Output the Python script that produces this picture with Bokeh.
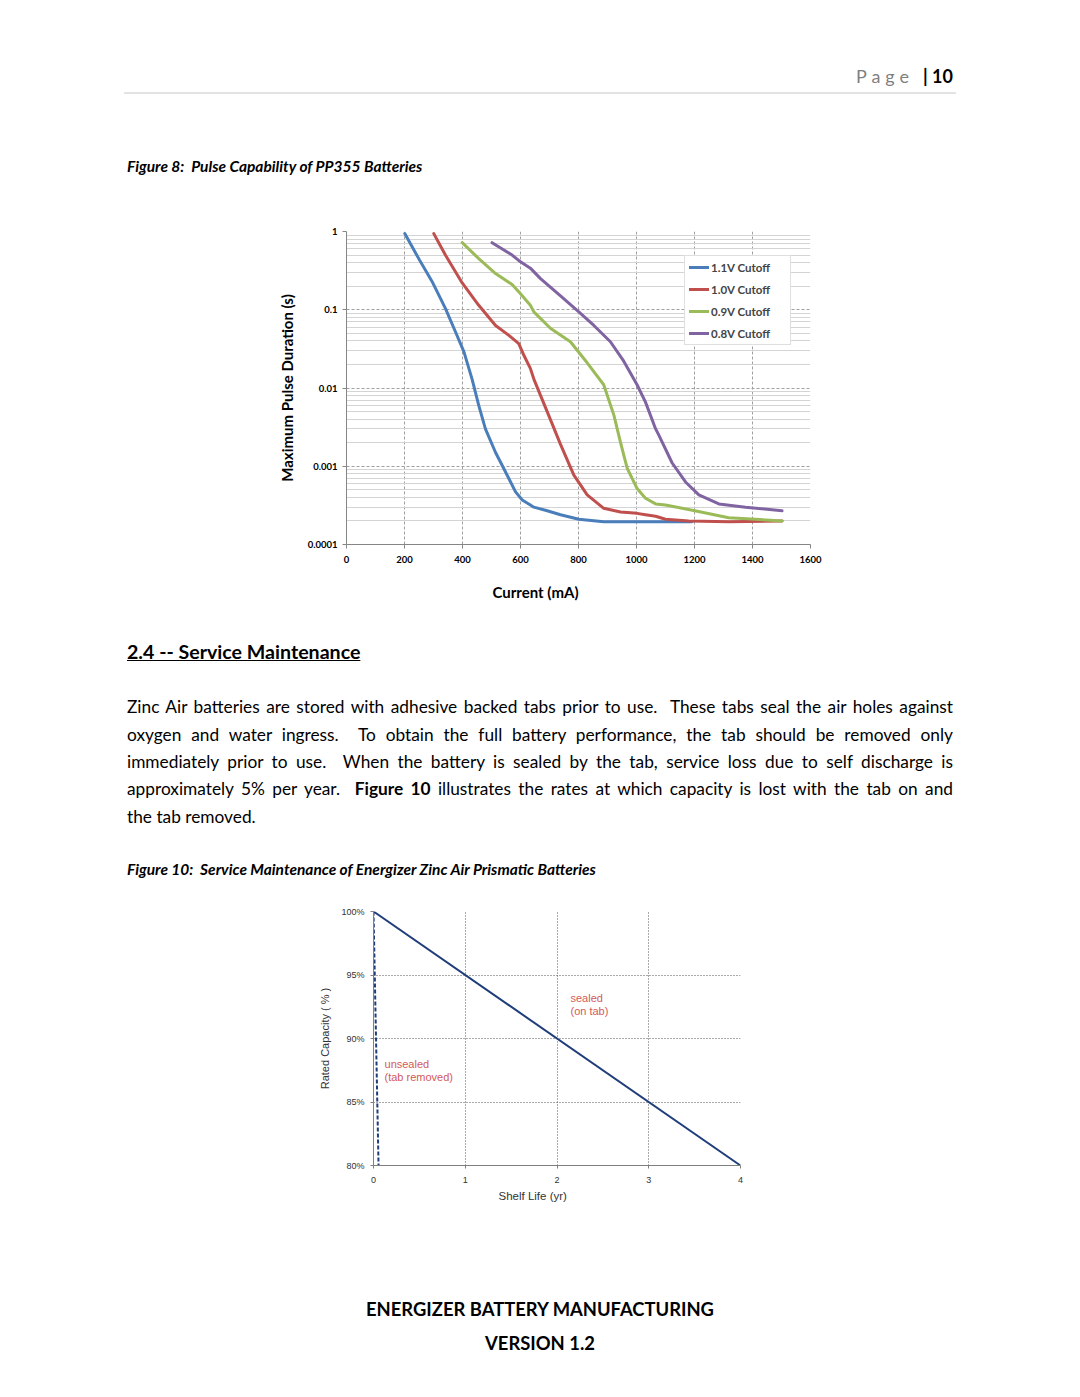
from bokeh.plotting import figure
from bokeh.models import (Range1d, FixedTicker, CustomJSTickFormatter, Legend,
                          LegendItem, Label, Div, Title)
from bokeh.layouts import column
from bokeh.embed import file_html
from bokeh.resources import INLINE

# ---------------- data: Figure 8 (pulse capability) ----------------
cut11_ma = [201, 249, 295, 341, 376, 405, 433, 456, 479, 514, 548, 583, 606, 634, 646, 692, 738, 801, 887, 1000, 1100, 1190]
cut11_s = [0.94, 0.45, 0.23, 0.104, 0.052, 0.029, 0.013, 0.006, 0.0030, 0.0015, 0.00085, 0.00047, 0.00037,
           0.00032, 0.00030, 0.00027, 0.00024, 0.00021, 0.000195, 0.000195, 0.000195, 0.000195]

cut10_ma = [301, 341, 399, 456, 514, 560, 594, 612, 634, 646, 692, 738, 784, 830, 887, 945, 1002, 1031, 1066, 1100, 1180, 1318, 1502]
cut10_s = [0.94, 0.50, 0.22, 0.114, 0.063, 0.047, 0.037, 0.026, 0.0178, 0.013, 0.0050, 0.0019, 0.00077, 0.00043,
           0.00029, 0.00026, 0.00025, 0.00024, 0.00023, 0.00021, 0.0002, 0.000195, 0.0002]

cut09_ma = [399, 456, 514, 571, 600, 634, 646, 703, 772, 830, 887, 922, 945, 968, 1002, 1031, 1066, 1100, 1201, 1318, 1410, 1502]
cut09_s = [0.72, 0.45, 0.29, 0.21, 0.16, 0.114, 0.094, 0.058, 0.039, 0.021, 0.011, 0.0045, 0.0020, 0.00094,
           0.00052, 0.00039, 0.00033, 0.00032, 0.00027, 0.00022, 0.00021, 0.0002]

cut08_ma = [502, 571, 600, 634, 669, 738, 801, 853, 910, 956, 1002, 1031, 1066, 1077, 1123, 1169, 1215, 1284, 1376, 1502]
cut08_s = [0.72, 0.50, 0.41, 0.34, 0.25, 0.15, 0.094, 0.063, 0.039, 0.022, 0.011, 0.0066, 0.0030, 0.0025,
           0.0011, 0.00063, 0.00043, 0.00033, 0.00030, 0.00027]

series_names = ["1.1V Cutoff", "1.0V Cutoff", "0.9V Cutoff", "0.8V Cutoff"]
series_colors = ["#4A7EBB", "#C0504D", "#9BBB59", "#8064A2"]

fig8_x_ticks = [0, 200, 400, 600, 800, 1000, 1200, 1400, 1600]
fig8_y_ticks = [0.0001, 0.001, 0.01, 0.1, 1]
fig8_y_minor = [k * 10.0 ** e for e in range(-4, 0) for k in range(2, 10)]

# ---------------- data: Figure 10 (service maintenance) ----------------
sealed_years = [0, 4]
sealed_capacity = [100, 80]
unsealed_years = [0, 0.055]
unsealed_capacity = [100, 80]
fig10_x_ticks = [0, 1, 2, 3, 4]
fig10_y_ticks = [80, 85, 90, 95, 100]

FONT = "Lato"

# ---------------- Figure 8 ----------------
p1 = figure(width=1080, height=409, x_range=Range1d(0, 1600), y_range=Range1d(0.0001, 1),
            y_axis_type="log", output_backend="svg", toolbar_location=None,
            min_border_left=346, min_border_right=270, min_border_top=21, min_border_bottom=75)
p1.outline_line_color = None
p1.background_fill_color = "white"

renderers = []
for xs, ys, c in zip([cut11_ma, cut10_ma, cut09_ma, cut08_ma],
                     [cut11_s, cut10_s, cut09_s, cut08_s], series_colors):
    renderers.append(p1.line(xs, ys, line_color=c, line_width=3, line_join="round", line_cap="round"))

p1.xaxis.ticker = FixedTicker(ticks=fig8_x_ticks)
p1.yaxis.ticker = FixedTicker(ticks=fig8_y_ticks, minor_ticks=fig8_y_minor)
p1.yaxis.formatter = CustomJSTickFormatter(code="return tick.toString();")

p1.xgrid.grid_line_color = "#a0a0a0"
p1.xgrid.grid_line_dash = "3 2"
p1.ygrid.grid_line_color = "#a0a0a0"
p1.ygrid.grid_line_dash = "3 2"
p1.ygrid.minor_grid_line_color = "#d4d4d4"

for ax in (p1.xaxis, p1.yaxis):
    ax.axis_line_color = "#868686"
    ax.major_tick_line_color = "#868686"
    ax.minor_tick_line_color = None
    ax.major_tick_out = 4
    ax.major_tick_in = 0
    ax.major_label_text_font = FONT
    ax.major_label_text_font_style = "bold"
    ax.major_label_text_font_size = "9.5px"
    ax.major_label_text_color = "black"
    ax.axis_label_text_font = FONT
    ax.axis_label_text_font_style = "bold"
    ax.axis_label_text_font_size = "15px"
    ax.axis_label_text_color = "black"

p1.xaxis.major_label_standoff = 7
p1.yaxis.axis_label = "Maximum Pulse Duration (s)"
p1.yaxis.major_label_standoff = 5
p1.yaxis.axis_label_standoff = 9

# x-axis title: sits left of the plot centre in the original
p1.add_layout(Title(text="Current (mA)", align="left", offset=146, standoff=30,
                    text_font=FONT, text_font_style="bold", text_font_size="15px",
                    text_color="black"), "below")

legend = Legend(items=[LegendItem(label=n, renderers=[r]) for n, r in zip(series_names, renderers)],
                location=(338, 199))
legend.label_text_font = FONT
legend.label_text_font_style = "bold"
legend.label_text_font_size = "11.5px"
legend.glyph_width = 20
legend.glyph_height = 14
legend.label_height = 14
legend.label_width = 75
legend.label_standoff = 2
legend.spacing = 8
legend.padding = 4
legend.margin = 0
legend.border_line_color = "#bfbfbf"
legend.background_fill_alpha = 1
p1.add_layout(legend)

# ---------------- Figure 10 ----------------
p2 = figure(width=983, height=315, x_range=Range1d(0, 4), y_range=Range1d(80, 100),
            output_backend="svg", toolbar_location=None, margin=(0, 0, 0, 27),
            min_border_left=346, min_border_right=270, min_border_top=16, min_border_bottom=45)
p2.outline_line_color = None
p2.line(sealed_years, sealed_capacity, line_color="#1F3D7A", line_width=2)
p2.line(unsealed_years, unsealed_capacity, line_color="#1F3D7A", line_width=2, line_dash="4 2")

p2.xaxis.ticker = FixedTicker(ticks=fig10_x_ticks)
p2.yaxis.ticker = FixedTicker(ticks=fig10_y_ticks)
p2.yaxis.formatter = CustomJSTickFormatter(code="return tick + '%';")
for g in (p2.xgrid, p2.ygrid):
    g.grid_line_color = "#555555"
    g.grid_line_dash = "1 2"
for ax in (p2.xaxis, p2.yaxis):
    ax.axis_line_color = "#7f7f7f"
    ax.major_tick_line_color = "#7f7f7f"
    ax.minor_tick_line_color = None
    ax.major_tick_out = 3
    ax.major_tick_in = 0
    ax.major_label_text_font = "Liberation Sans"
    ax.major_label_text_font_size = "9px"
    ax.major_label_text_color = "#333333"
    ax.axis_label_text_font = "Liberation Sans"
    ax.axis_label_text_font_style = "normal"
    ax.axis_label_text_font_size = "11px"
    ax.axis_label_text_color = "#333333"
p2.xaxis.major_label_standoff = 8
p2.yaxis.axis_label = "Rated Capacity ( % )"
p2.yaxis.major_label_standoff = 6
p2.yaxis.axis_label_standoff = 7

p2.add_layout(Title(text="Shelf Life (yr)", align="left", offset=125, standoff=5,
                    text_font="Liberation Sans", text_font_style="normal", text_font_size="11.5px",
                    text_color="#333333"), "below")

for txt, x, y in [("sealed", 2.147, 93.15), ("(on tab)", 2.147, 92.13),
                  ("unsealed", 0.12, 88.03), ("(tab removed)", 0.12, 87.0)]:
    p2.add_layout(Label(x=x, y=y, text=txt, text_font="Liberation Sans", text_font_size="11px",
                        text_color="#D35A5A", text_baseline="middle", text_align="left"))

# ---------------- document text ----------------
BASE = "font-family:Lato,'Open Sans',sans-serif;color:#000;"

div_a = Div(width=1080, height=210, margin=0, text=f"""
<div style="position:relative;width:1080px;height:210px;{BASE}">
  <div style="position:absolute;right:127px;top:64px;line-height:24px;font-size:18px;white-space:nowrap;">
    <span style="color:#7f7f7f;letter-spacing:5px;">Page</span>
    <span style="font-weight:bold;">&nbsp;| 10</span>
  </div>
  <div style="position:absolute;left:124px;top:92px;width:832px;height:2px;background:#e3e3e3;"></div>
  <div style="position:absolute;left:127px;top:156px;line-height:20px;font-size:15.5px;font-weight:bold;font-style:italic;white-space:nowrap;">
    Figure 8:&nbsp; Pulse Capability of PP355 Batteries</div>
</div>""")

para_lines = [
    "Zinc Air batteries are stored with adhesive backed tabs prior to use.&nbsp; These tabs seal the air holes against",
    "oxygen and water ingress.&nbsp; To obtain the full battery performance, the tab should be removed only",
    "immediately prior to use.&nbsp; When the battery is sealed by the tab, service loss due to self discharge is",
    "approximately 5% per year.&nbsp; <b>Figure 10</b> illustrates the rates at which capacity is lost with the tab on and",
]
lines_html = "".join(
    f'<div style="height:27.3px;line-height:27.3px;text-align:justify;text-align-last:justify;white-space:nowrap;">{l}</div>'
    for l in para_lines)
lines_html += '<div style="height:27.3px;line-height:27.3px;white-space:nowrap;">the tab removed.</div>'

div_b = Div(width=1080, height=276, margin=0, text=f"""
<div style="position:relative;width:1080px;height:276px;{BASE}">
  <div style="position:absolute;left:127px;top:21px;line-height:24px;font-size:19.6px;font-weight:bold;text-decoration:underline;white-space:nowrap;">
    2.4 -- Service Maintenance</div>
  <div style="position:absolute;left:127px;top:74.4px;width:826px;font-size:17.3px;">{lines_html}</div>
  <div style="position:absolute;left:127px;top:240px;line-height:20px;font-size:15.5px;font-weight:bold;font-style:italic;white-space:nowrap;">
    Figure 10:&nbsp; Service Maintenance of Energizer Zinc Air Prismatic Batteries</div>
</div>""")

div_c = Div(width=1080, height=187, margin=0, text=f"""
<div style="position:relative;width:1080px;height:187px;{BASE}">
  <div style="position:absolute;left:0;width:1080px;top:87px;line-height:24px;font-size:18.4px;font-weight:bold;text-align:center;">
    ENERGIZER BATTERY MANUFACTURING</div>
  <div style="position:absolute;left:0;width:1080px;top:121px;line-height:24px;font-size:18.4px;font-weight:bold;text-align:center;">
    VERSION 1.2</div>
</div>""")

page = column(div_a, p1, div_b, p2, div_c, spacing=0)

open("out.html", "w").write(file_html(page, INLINE))
